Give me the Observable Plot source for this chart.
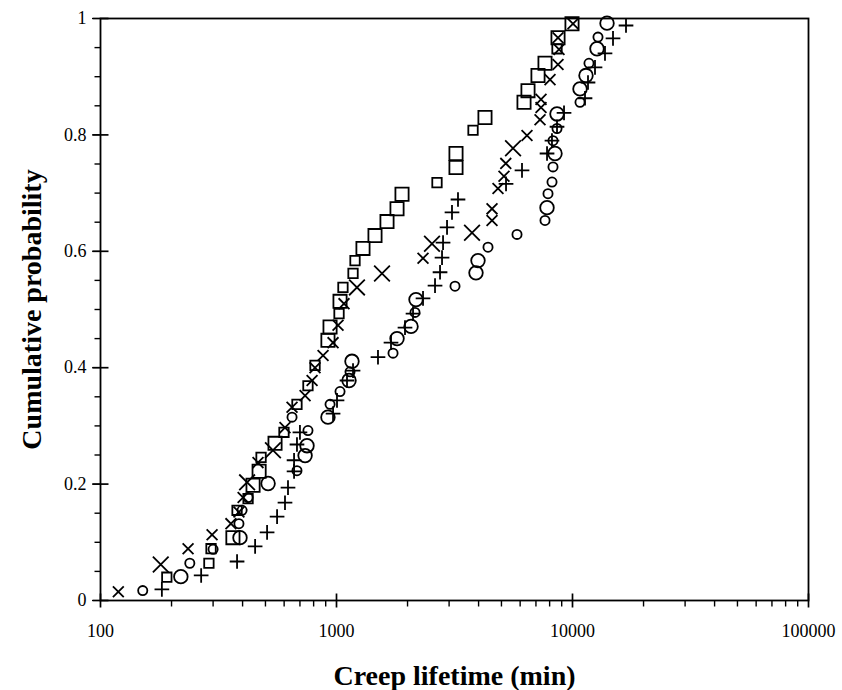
<!DOCTYPE html>
<html><head><meta charset="utf-8">
<script src="https://cdn.jsdelivr.net/npm/d3@7"></script>
<script src="https://cdn.jsdelivr.net/npm/@observablehq/plot@0.6"></script>
<style>html,body{margin:0;padding:0;background:#fff}</style>
</head><body><div id="chart"></div>
<script>
// Tick values
const xTicks = [100, 1000, 10000, 100000];
const xMinor = [200,300,400,500,600,700,800,900,2000,3000,4000,5000,6000,7000,8000,9000,20000,30000,40000,50000,60000,70000,80000,90000];
const yTicks = [0, 0.2, 0.4, 0.6, 0.8, 1];
const yMinor = [0.05,0.1,0.15,0.25,0.3,0.35,0.45,0.5,0.55,0.65,0.7,0.75,0.85,0.9,0.95];

// Series: [creep lifetime (min), cumulative probability]
const crossLarge = [[180,0.062],[418,0.203],[538,0.258],[1221,0.538],[1559,0.562],[2539,0.613],[3752,0.632],[5598,0.777]];
const crossSmall = [[119,0.015],[235,0.089],[297,0.113],[357,0.132],[386,0.152],[402,0.177],[465,0.237],[605,0.297],[648,0.332],[736,0.352],[788,0.378],[811,0.40],[877,0.421],[967,0.443],[1015,0.473],[1076,0.51],[2326,0.588],[4560,0.653],[4560,0.673],[4834,0.708],[5125,0.729],[5215,0.751],[6415,0.799],[7284,0.826],[7355,0.847],[7355,0.861],[8031,0.895],[8683,0.921],[8768,0.947],[8683,0.967],[10049,0.991]];
const squareLarge = [[364,0.108],[443,0.198],[470,0.222],[549,0.27],[920,0.447],[939,0.47],[1035,0.514],[1295,0.605],[1456,0.627],[1637,0.651],[1805,0.673],[1895,0.698],[3209,0.744],[3209,0.768],[4258,0.830],[6231,0.856],[6478,0.876],[7142,0.902],[7648,0.923],[8683,0.967],[9952,0.991]];
const squareSmall = [[191,0.040],[288,0.064],[294,0.089],[379,0.155],[422,0.175],[479,0.246],[599,0.289],[680,0.337],[757,0.369],[811,0.404],[1025,0.493],[1065,0.538],[1175,0.562],[1198,0.584],[2666,0.718],[3789,0.808],[8598,0.948]];
const circleLarge = [[219,0.041],[390,0.108],[513,0.201],[736,0.249],[750,0.266],[920,0.315],[1130,0.378],[1163,0.411],[1805,0.45],[2069,0.471],[2172,0.517],[3900,0.563],[3977,0.584],[7798,0.675],[8430,0.768],[8598,0.836],[10759,0.879],[11406,0.902],[12700,0.948],[14004,0.992]];
const circleSmall = [[151,0.017],[239,0.064],[300,0.088],[386,0.132],[398,0.155],[422,0.177],[680,0.223],[757,0.292],[648,0.315],[939,0.337],[1035,0.359],[1141,0.393],[1736,0.425],[2151,0.495],[3178,0.54],[4385,0.607],[5819,0.629],[7648,0.653],[7874,0.699],[8188,0.719],[8268,0.745],[8268,0.79],[8598,0.811],[10759,0.856],[11744,0.923],[12823,0.968]];
const plusSeries = [[182,0.019],[267,0.043],[379,0.067],[452,0.093],[508,0.117],[560,0.144],[605,0.168],[623,0.194],[661,0.222],[661,0.241],[680,0.268],[700,0.289],[967,0.321],[1005,0.344],[1108,0.378],[1175,0.395],[1499,0.418],[1702,0.443],[1951,0.469],[2110,0.493],[2326,0.519],[2615,0.541],[2746,0.564],[2800,0.589],[2828,0.615],[2940,0.641],[3086,0.667],[3272,0.689],[5228,0.716],[6110,0.739],[7800,0.768],[8185,0.790],[8598,0.814],[9206,0.838],[11297,0.863],[11633,0.890],[12455,0.916],[13730,0.940],[14847,0.966],[16855,0.988]];

const W = 842, H = 690, mL = 100, mR = 34, mT = 18, mB = 90;
const serif = "'Liberation Serif', 'Times New Roman', Times, serif";

// Tick-line symbols, drawn at the frame edge by Plot.dot with frameAnchor
const hCross = {draw(c) { c.moveTo(-8, 0); c.lineTo(8, 0); }};
const hOut   = {draw(c) { c.moveTo(-6, 0); c.lineTo(0, 0); }};
const vCross = {draw(c) { c.moveTo(0, -7); c.lineTo(0, 7); }};
const vOut   = {draw(c) { c.moveTo(0, 0); c.lineTo(0, 6); }};
const tickDots = (data, axis, symbol, sw, name) => Plot.dot(data, {
  [axis]: d => d, frameAnchor: axis === "y" ? "left" : "bottom",
  symbol, stroke: "#000", strokeWidth: sw, fill: "none", ariaLabel: name
});

const dots = (data, symbol, r) => Plot.dot(data, {
  x: d => d[0], y: d => d[1], symbol, r,
  stroke: "#000", strokeWidth: 1.8, fill: "none"
});

const plot = Plot.plot({
  width: W, height: H,
  marginLeft: mL, marginRight: mR, marginTop: mT, marginBottom: mB,
  style: {fontFamily: serif, fontSize: "18px", background: "#fff", color: "#000", overflow: "visible"},
  x: {type: "log", domain: [100, 100000], ticks: xTicks, tickSize: 7, tickPadding: 17,
      tickFormat: d => String(d), label: null},
  y: {domain: [0, 1], ticks: yTicks, tickSize: 8, tickPadding: 6,
      tickFormat: d => (d === 0 ? "0" : d === 1 ? "1" : d.toFixed(1)), label: null},
  marks: [
    Plot.frame({stroke: "#000", strokeWidth: 1.8}),
    dots(circleSmall, "circle", 4.6),
    dots(circleLarge, "circle", 6.8),
    dots(squareSmall, "square2", 6.0),
    dots(squareLarge, "square2", 8.4),
    dots(crossSmall, "times", 5.0),
    dots(crossLarge, "times", 7.2),
    dots(plusSeries, "plus", 4.8),
    Plot.text(["Creep lifetime (min)"], {frameAnchor: "bottom", dy: 84, lineAnchor: "bottom", textAnchor: "middle", fontSize: 28, fontWeight: "bold", fontFamily: serif, fill: "#000"}),
    Plot.text(["Cumulative probability"], {frameAnchor: "left", dx: -68, rotate: -90, textAnchor: "middle", lineAnchor: "middle", fontSize: 28, fontWeight: "bold", fontFamily: serif, fill: "#000", ariaLabel: "ytitle"}),
    tickDots(yMinor, "y", hOut, 1.4, "yminor"),
    tickDots(yTicks, "y", hCross, 1.7, "ymajor"),
    tickDots(xMinor, "x", vOut, 1.4, "xminor"),
    tickDots(xTicks, "x", vCross, 1.7, "xmajor")
  ]
});
document.getElementById("chart").appendChild(plot);
d3.select(plot).select('g[aria-label="ytitle"] text')
  .attr("textLength", 318).attr("lengthAdjust", "spacingAndGlyphs");
// make sure the tick lines keep a visible black stroke
d3.select(plot).selectAll('g[aria-label="yminor"], g[aria-label="ymajor"], g[aria-label="xminor"], g[aria-label="xmajor"]')
  .attr("stroke", "#000").attr("fill", "none").style("stroke", "#000").style("opacity", 1);
d3.select(plot).selectAll('g[aria-label="yminor"] path, g[aria-label="ymajor"] path, g[aria-label="xminor"] path, g[aria-label="xmajor"] path')
  .style("stroke", "#000").style("fill", "none");
</script>
</body></html>
